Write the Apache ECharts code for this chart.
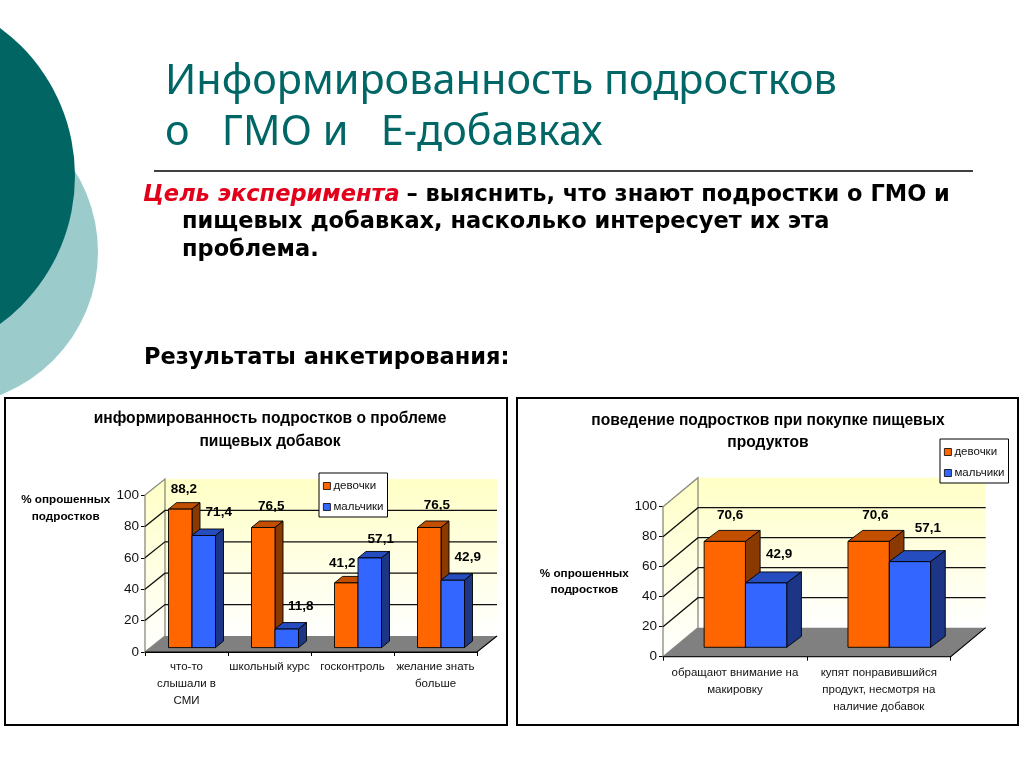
<!DOCTYPE html>
<html><head><meta charset="utf-8">
<style>html,body{margin:0;padding:0;background:#fff}#c{width:1024px;height:768px}</style>
<script src="https://cdn.jsdelivr.net/npm/echarts@6/dist/echarts.min.js"></script>
</head><body><div id="c"></div>
<script>
const seriesNames = ['девочки', 'мальчики'];
const yTicks = [0, 20, 40, 60, 80, 100];

const categoriesA = ['что-то\nслышали в\nСМИ', 'школьный курс', 'госконтроль', 'желание знать\nбольше'];
const girlsA = [88.2, 76.5, 41.2, 76.5];
const boysA = [71.4, 11.8, 57.1, 42.9];

const categoriesB = ['обращают внимание на\nмакировку', 'купят понравившийся\nпродукт, несмотря на\nналичие добавок'];
const girlsB = [70.6, 70.6];
const boysB = [42.9, 57.1];

const colours = [
  {front: '#FF6600', top: '#C24E00', side: '#8A3A00'},
  {front: '#3366FF', top: '#264DBF', side: '#1C3585'}
];
const LABEL = 'bold 13.5px "Liberation Sans", Arial, sans-serif';
const BASE = '"Liberation Sans", Arial, sans-serif';

const layoutA = {grid: {left: 145, top: 495, width: 332, height: 157},
  wall: [20, -16], plane: [5.5, -4.4], depth: [8, -6.5], barW: 23.5, labelMargin: 6.5,
  nudge: [[[3.6, -20], [8, -21.6], [-4, -20], [7.7, -22.7]], [[15, -23], [14, -23], [11, -19], [15, -22.6]]]};
const layoutB = {grid: {left: 663, top: 506.7, width: 287.7, height: 150},
  wall: [35, -29], plane: [10.5, -9.4], depth: [14.7, -11], barW: 41.3, labelMargin: 7.5,
  nudge: [[[5.3, -25.7], [6.7, -25.7]], [[13, -28.7], [18, -33]]]};

function frameSeries(gi, L) {
  return {
    type: 'custom', name: 'стенки', xAxisIndex: gi, yAxisIndex: gi, silent: true, z: 1, clip: false,
    data: [[0, 0]], encode: {x: 0, y: 1},
    renderItem(params, api) {
      const cs = params.coordSys, x0 = cs.x, x1 = cs.x + cs.width;
      const dx = L.wall[0], dy = L.wall[1];
      const y = v => api.coord([0, v])[1];
      const grad = {type: 'linear', x: 0, y: 0, x2: 0, y2: 1,
        colorStops: [{offset: 0, color: '#FFFFC6'}, {offset: 1, color: '#FFFFFF'}]};
      const wallLine = {stroke: '#8A8A7C', lineWidth: 1.3};
      const kids = [
        {type: 'polygon', shape: {points: [[x0 + dx, y(100) + dy], [x1 + dx, y(100) + dy], [x1 + dx, y(0) + dy], [x0 + dx, y(0) + dy]]},
          style: {fill: grad, stroke: null}},
        {type: 'polygon', shape: {points: [[x0, y(100)], [x0 + dx, y(100) + dy], [x0 + dx, y(0) + dy], [x0, y(0)]]},
          style: Object.assign({fill: grad}, wallLine)},
        {type: 'polygon', shape: {points: [[x0, y(0)], [x0 + dx, y(0) + dy], [x1 + dx, y(0) + dy], [x1, y(0)]]},
          style: {fill: '#808080', stroke: null}},
        {type: 'polyline', shape: {points: [[x0, y(0)], [x1, y(0)], [x1 + dx, y(0) + dy]]},
          style: {fill: null, stroke: '#000', lineWidth: 1.1}}
      ];
      yTicks.slice(1, -1).forEach(t => {
        kids.push({type: 'polyline', shape: {points: [[x0, y(t)], [x0 + dx, y(t) + dy], [x1 + dx, y(t) + dy]]},
          style: {fill: null, stroke: '#111', lineWidth: 1.3}});
      });
      return {type: 'group', children: kids};
    }
  };
}

function barSeries(gi, L, si, values) {
  return {
    type: 'custom', name: seriesNames[si], xAxisIndex: gi, yAxisIndex: gi, z: 2 + si, clip: false,
    itemStyle: {color: colours[si].front},
    data: values.map((v, i) => [i, v]), encode: {x: 0, y: 1},
    renderItem(params, api) {
      const i = api.value(0), v = api.value(1);
      const c = api.coord([i, v]), base = api.coord([i, 0]);
      const xl = c[0] + L.plane[0] + (si - 1) * L.barW, xr = xl + L.barW;
      const yt = c[1] + L.plane[1], yb = base[1] + L.plane[1];
      const ddx = L.depth[0], ddy = L.depth[1];
      const edge = {stroke: '#000', lineWidth: 0.9, lineJoin: 'round'};
      const n = L.nudge[si][i];
      return {type: 'group', children: [
        {type: 'polygon', shape: {points: [[xl, yt], [xl + ddx, yt + ddy], [xr + ddx, yt + ddy], [xr, yt]]},
          style: Object.assign({fill: colours[si].top}, edge)},
        {type: 'polygon', shape: {points: [[xr, yt], [xr + ddx, yt + ddy], [xr + ddx, yb + ddy], [xr, yb]]},
          style: Object.assign({fill: colours[si].side}, edge)},
        {type: 'rect', shape: {x: xl, y: yt, width: L.barW, height: yb - yt},
          style: Object.assign({fill: colours[si].front}, edge)},
        {type: 'text', z2: 200, x: (xl + xr) / 2 + n[0], y: yt + n[1],
          style: {text: String(v).replace('.', ','), font: LABEL, fill: '#000', align: 'center', verticalAlign: 'middle'}}
      ]};
    }
  };
}

function xAxisOf(gi, cats, margin) {
  return {type: 'category', gridIndex: gi, data: cats, boundaryGap: true,
    axisLine: {show: true, lineStyle: {color: '#000', width: 1.2}},
    axisTick: {show: true, alignWithLabel: false, length: 4, lineStyle: {color: '#000'}},
    splitLine: {show: false},
    axisLabel: {interval: 0, margin, color: '#111', fontFamily: BASE, fontSize: 11.5, lineHeight: 17}};
}
function yAxisOf(gi) {
  return {type: 'value', gridIndex: gi, min: 0, max: 100, interval: 20,
    axisLine: {show: true, lineStyle: {color: '#777', width: 1}},
    axisTick: {show: true, length: 4, lineStyle: {color: '#000'}},
    splitLine: {show: false},
    axisLabel: {margin: 6, color: '#111', fontFamily: BASE, fontSize: 13.5}};
}
function legendOf(left, top) {
  return {data: seriesNames, orient: 'vertical', left, top, icon: 'rect', itemWidth: 7, itemHeight: 7, itemGap: 9,
    padding: [7, 4, 4, 4], backgroundColor: '#fff', borderColor: '#000', borderWidth: 1, selectedMode: false,
    itemStyle: {borderColor: '#000', borderWidth: 0.8},
    textStyle: {fontFamily: BASE, fontSize: 11.5, color: '#111', padding: [0, 0, 0, -2]}};
}
function txt(x, y, text, font, fill, align) {
  return {type: 'text', x, y, z: 10, style: {text, font, fill: fill || '#000', align: align || 'left', verticalAlign: 'middle'}};
}
const titleFont = '41.4px "Noto Sans", Verdana, sans-serif';
const bodyFont = 'bold 22.5px "DejaVu Sans", Verdana, sans-serif';
const chartTitle = 'bold 15.6px "Liberation Sans", Arial, sans-serif';
const axisName = 'bold 11.7px "Liberation Sans", Arial, sans-serif';

const option = {
  animation: false,
  backgroundColor: '#fff',
  grid: [
    Object.assign({containLabel: false}, layoutA.grid),
    Object.assign({containLabel: false}, layoutB.grid)
  ],
  xAxis: [xAxisOf(0, categoriesA, layoutA.labelMargin), xAxisOf(1, categoriesB, layoutB.labelMargin)],
  yAxis: [yAxisOf(0), yAxisOf(1)],
  legend: [legendOf(319, 473), legendOf(940, 439)],
  series: [
    frameSeries(0, layoutA), barSeries(0, layoutA, 0, girlsA), barSeries(0, layoutA, 1, boysA),
    frameSeries(1, layoutB), barSeries(1, layoutB, 0, girlsB), barSeries(1, layoutB, 1, boysB)
  ],
  graphic: [
    {type: 'circle', z: -3, shape: {cx: -55.3, cy: 252, r: 153.3}, style: {fill: '#9CCBCC'}},
    {type: 'circle', z: -2, shape: {cx: -108.7, cy: 176, r: 183.7}, style: {fill: '#006563'}},
    txt(165, 82, 'Информированность подростков', titleFont, '#006666'),
    txt(165, 133, 'о   ГМО и   Е-добавках', titleFont, '#006666'),
    {type: 'line', z: 10, shape: {x1: 154, y1: 171, x2: 973, y2: 171}, style: {stroke: '#000', lineWidth: 1.5}},
    {type: 'text', x: 143, y: 195, z: 10, style: {
      text: '{r|Цель эксперимента}  {b|– выяснить, что знают подростки о ГМО и}',
      verticalAlign: 'middle',
      rich: {r: {fontStyle: 'italic', fontWeight: 'bold', fontSize: 22.5, fontFamily: 'DejaVu Sans', fill: '#E3001B'},
             b: {fontWeight: 'bold', fontSize: 22.5, fontFamily: 'DejaVu Sans', fill: '#000'}}}},
    txt(182, 222, 'пищевых добавках, насколько интересует их эта', bodyFont),
    txt(182, 250, 'проблема.', bodyFont),
    txt(144, 358, 'Результаты анкетирования:', bodyFont),
    {type: 'rect', z: -1, shape: {x: 5, y: 398, width: 502, height: 327}, style: {fill: '#fff', stroke: '#000', lineWidth: 2}},
    {type: 'rect', z: -1, shape: {x: 517, y: 398, width: 501, height: 327}, style: {fill: '#fff', stroke: '#000', lineWidth: 2}},
    txt(270, 419, 'информированность подростков о проблеме', chartTitle, '#000', 'center'),
    txt(270, 442, 'пищевых добавок', chartTitle, '#000', 'center'),
    txt(768, 421, 'поведение подростков при покупке пищевых', chartTitle, '#000', 'center'),
    txt(768, 443, 'продуктов', chartTitle, '#000', 'center'),
    txt(65.7, 500, '% опрошенных', axisName, '#000', 'center'),
    txt(65.7, 516.7, 'подростков', axisName, '#000', 'center'),
    txt(584.3, 573.3, '% опрошенных', axisName, '#000', 'center'),
    txt(584.3, 590, 'подростков', axisName, '#000', 'center')
  ]
};
const chart = echarts.init(document.getElementById('c'));
chart.setOption(option);
</script></body></html>
